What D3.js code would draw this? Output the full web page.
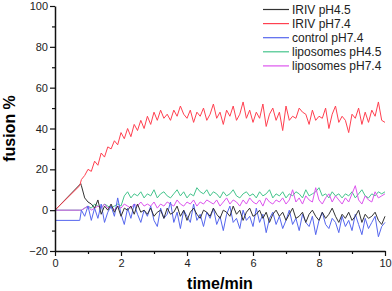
<!DOCTYPE html>
<html>
<head>
<meta charset="utf-8">
<script src="https://cdn.jsdelivr.net/npm/d3@7"></script>
<style>
  body { margin: 0; background: #fff; }
  svg { display: block; font-family: Arial, "Liberation Sans", sans-serif; }
</style>
</head>
<body>
<svg id="chart" width="392" height="291"></svg>
<script>
// sampled every 0.1 min from 0.8 to 10.0
const times = d3.range(93).map(i => +(0.8 + i * 0.1).toFixed(1));

// points before sampling started (injection ramp)
const leadIrivPh45 = [[0, 0], [0.78, 13]];
const leadIrivPh74 = [[0, 0], [0.75, 12]];
const leadControl = [[0, -5], [0.75, -5]];
const leadLipoPh45 = [[0, 0], [0.75, 0]];
const leadLipoPh74 = [[0, 0], [0.75, 0]];

const irivPh74 = [
  15, 17, 20, 19, 24, 22, 28, 26, 31, 30, 34, 32, 38, 35, 40, 36, 42, 39, 44, 40,
  46, 42, 48, 44, 49, 45, 47, 44, 49, 46, 51, 47, 45, 49, 43, 48, 46, 50, 44, 47,
  52, 45, 48, 42, 49, 46, 51, 44, 47, 53, 45, 49, 43, 48, 45, 52, 41, 47, 50, 44,
  48, 39, 51, 44, 46, 45, 50, 48, 47, 42, 49, 44, 46, 45, 50, 40, 47, 51, 43, 46,
  44, 38, 47, 45, 50, 42, 48, 43, 49, 46, 53, 44, 43
];
const irivPh45 = [
  12, 6, 4, 3, 1, 5, -2, 2, 0, 3, -1, 2, -3, 1, 0, 2, -2, 3, -1, 0,
  -2, 1, -3, -1, 0, -4, 1, -2, -1, 2, -3, 0, -5, -1, 1, -2, -4, 0, -1, -3,
  1, -2, -4, 0, -1, -3, 2, -2, 0, -5, -1, 1, -3, -2, 0, -4, -1, -6, -2, 0,
  -3, -1, -5, -2, 1, -4, -3, -1, -6, -2, 0, -3, -5, -1, -4, -2, 1, -3, -6, -2,
  -4, -1, -5, -3, 0, -6, -2, -4, -3, -1, -5, -7, -3
];
const controlPh74 = [
  0, -3, 2, -5, 1, -4, 3, -6, -1, 2, -3, 6, -2, -7, 1, -4, 3, -2, -6, 0,
  -3, 2, -5, -8, 1, -4, -2, 4, -6, -1, -9, 0, -3, -6, 3, -5, -2, -8, -1, -4,
  1, -7, -3, -10, -2, 2, -6, -4, -9, 0, -5, -3, -8, 1, -6, -2, -11, -4, -1, -7,
  -3, -9, -5, 0, -7, -4, -10, -2, -6, -8, -3, -12, -5, -1, -7, -9, -4, -6, -11, -3,
  -8, -5, -10, -2, -7, -12, -4, -9, -6, -3, -13, -8, -6
];
const lipoPh45 = [
  0, 1, 2, 1, 3, 2, 1, 3, 2, 1, 2, 3, 2, 7, 9, 6, 8, 7, 9, 6,
  8, 7, 10, 6, 8, 9, 7, 6, 8, 10, 7, 9, 6, 8, 7, 11, 9, 8, 10, 7,
  9, 8, 6, 9, 7, 8, 10, 7, 6, 8, 9, 7, 8, 6, 9, 7, 8, 10, 6, 8,
  7, 9, 6, 8, 7, 9, 8, 6, 10, 7, 8, 9, 11, 7, 8, 6, 9, 7, 8, 6,
  8, 7, 9, 6, 8, 10, 7, 6, 8, 7, 9, 8, 9
];
const lipoPh74 = [
  0, 1, 2, 0, 1, 2, 1, 3, 1, 2, 0, 2, 1, 3, 2, 1, 3, 2, 4, 2,
  3, 2, 4, 1, 3, 2, 4, 3, 2, 5, 3, 2, 4, 3, 5, 2, 4, 3, 5, 4,
  3, 5, 2, 4, 6, 3, 5, 4, 2, 5, 3, 6, 4, 3, 5, 2, 6, 4, 3, 5,
  4, 6, 3, 5, 10, 4, 6, 3, 7, 5, 4, 11, 5, 3, 6, 8, 4, 7, 5, 3,
  6, 4, 8, 12, 5, 3, 7, 5, 4, 9, 6, 7, 8
];

const seriesNames = ['IRIV pH4.5', 'IRIV pH7.4', 'control pH7.4', 'liposomes pH4.5', 'liposomes pH7.4'];
const seriesColors = ['#333333', '#ff4050', '#5566ee', '#44c48c', '#dd55ee'];
const xTickValues = [0, 2, 4, 6, 8, 10];
const yTickValues = [-20, 0, 20, 40, 60, 80, 100];

const build = (lead, vals) => lead.concat(vals.map((v, i) => [times[i], v]));
const series = [
  build(leadIrivPh45, irivPh45),
  build(leadIrivPh74, irivPh74),
  build(leadControl, controlPh74),
  build(leadLipoPh45, lipoPh45),
  build(leadLipoPh74, lipoPh74)
];

const svg = d3.select('#chart');
const x = d3.scaleLinear().domain([0, 10]).range([55, 385]);
const y = d3.scaleLinear().domain([-20, 100]).range([251, 6]);

// draw order: lipo first, then control, iriv on top
const line = d3.line().x(d => x(d[0])).y(d => y(d[1]));
const order = [3, 4, 2, 0, 1];
svg.append('g').selectAll('path')
  .data(order)
  .join('path')
  .attr('d', i => line(series[i]))
  .attr('fill', 'none')
  .attr('stroke', i => seriesColors[i])
  .attr('stroke-width', 1)
  .attr('stroke-linejoin', 'round');

// axes with minor ticks
const axisStyle = (g) => {
  g.selectAll('.domain').attr('stroke', '#111').attr('stroke-width', 1.5);
  g.selectAll('.tick line').attr('stroke', '#111').attr('stroke-width', 1.2);
  g.selectAll('text').attr('font-size', 11).attr('fill', '#222')
    .attr('font-family', 'Arial, "Liberation Sans", sans-serif');
};

svg.append('g')
  .attr('transform', `translate(0,${y(-20)})`)
  .call(d3.axisBottom(x).tickValues(d3.range(1, 10, 2)).tickSize(3).tickFormat('').tickSizeOuter(0))
  .call(g => g.select('.domain').remove())
  .call(axisStyle);
svg.append('g')
  .attr('transform', `translate(0,${y(-20)})`)
  .call(d3.axisBottom(x).tickValues(xTickValues).tickSize(5).tickSizeOuter(0).tickPadding(3))
  .call(axisStyle);

svg.append('g')
  .attr('transform', `translate(${x(0)},0)`)
  .call(d3.axisLeft(y).tickValues(d3.range(-10, 100, 20)).tickSize(3).tickFormat('').tickSizeOuter(0))
  .call(g => g.select('.domain').remove())
  .call(axisStyle);
svg.append('g')
  .attr('transform', `translate(${x(0)},0)`)
  .call(d3.axisLeft(y).tickValues(yTickValues).tickSize(5).tickSizeOuter(0).tickPadding(2))
  .call(axisStyle);

// axis titles
svg.append('text')
  .attr('x', x(5)).attr('y', 289)
  .attr('text-anchor', 'middle')
  .attr('font-size', 16).attr('font-weight', 'bold')
  .text('time/min');
svg.append('text')
  .attr('transform', `translate(15,${(y(-20) + y(100)) / 2}) rotate(-90)`)
  .attr('text-anchor', 'middle')
  .attr('font-size', 16).attr('font-weight', 'bold')
  .text('fusion %');

// legend
const legend = svg.append('g').selectAll('g')
  .data(seriesNames)
  .join('g')
  .attr('transform', (d, i) => `translate(263,${9.5 + i * 14.1})`);
legend.append('line')
  .attr('x1', 0).attr('x2', 26)
  .attr('stroke', (d, i) => seriesColors[i])
  .attr('stroke-width', 1.2);
legend.append('text')
  .attr('x', 29).attr('dy', '0.35em')
  .attr('font-size', 12).attr('fill', '#222')
  .text(d => d);
</script>
</body>
</html>
